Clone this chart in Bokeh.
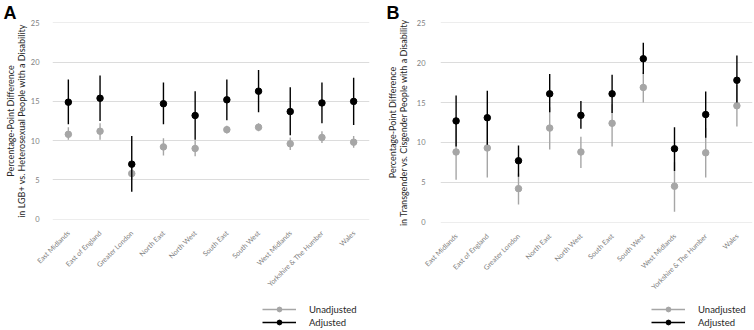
from bokeh.plotting import figure
from bokeh.models import ColumnDataSource, Legend, LegendItem, FixedTicker, Range1d
from bokeh.layouts import row, column
from bokeh.embed import file_html
from bokeh.resources import INLINE
import math

regions = ["East Midlands", "East of England", "Greater London", "North East", "North West",
           "South East", "South West", "West Midlands", "Yorkshire & The Humber", "Wales"]

a_adj = [14.9, 15.4, 7.0, 14.7, 13.2, 15.2, 16.3, 13.7, 14.8, 15.0]
a_adj_lo = [12.1, 12.5, 3.5, 12.1, 10.1, 12.6, 13.6, 10.7, 12.2, 12.0]
a_adj_hi = [17.8, 18.3, 10.6, 17.4, 16.3, 17.8, 19.0, 16.8, 17.4, 18.0]
a_unadj = [10.8, 11.2, 5.8, 9.2, 9.0, 11.4, 11.7, 9.6, 10.4, 9.8]
a_unadj_lo = [10.1, 10.1, 5.0, 8.1, 8.0, 10.9, 11.2, 8.8, 9.7, 9.1]
a_unadj_hi = [11.7, 12.2, 6.6, 10.3, 10.0, 11.9, 12.2, 10.4, 11.2, 10.6]

b_adj = [12.7, 13.1, 7.7, 16.1, 13.4, 16.1, 20.5, 9.2, 13.5, 17.8]
b_adj_lo = [9.5, 9.7, 5.7, 13.8, 11.7, 13.7, 18.6, 6.4, 10.6, 15.0]
b_adj_hi = [15.9, 16.5, 9.6, 18.6, 15.2, 18.5, 22.5, 11.9, 16.4, 20.9]
b_unadj = [8.8, 9.3, 4.2, 11.8, 8.8, 12.4, 16.9, 4.5, 8.7, 14.6]
b_unadj_lo = [5.3, 5.6, 2.2, 9.1, 6.8, 9.5, 15.0, 1.3, 5.6, 12.0]
b_unadj_hi = [12.3, 13.0, 6.1, 14.4, 10.7, 14.8, 18.8, 7.5, 11.8, 17.2]

y_ticks = [0, 5, 10, 15, 20, 25]
series_names = ["Unadjusted", "Adjusted"]

FONT = "Lato"
GRAY = "#a6a6a6"
BLACK = "#000000"
PANEL_W = 377
LEGEND_H = 29


def style_series(p, src, color):
    seg = p.segment(x0="x", y0="lo", x1="x", y1="hi", source=src,
                    line_color=color, line_width=1.4)
    pt = p.scatter(x="x", y="y", source=src, size=6.5, fill_color=color, line_color=color)
    return seg, pt


def make_panel(letter, ylabel, adj, adj_lo, adj_hi, un, un_lo, un_hi,
               left, fw, fh, top, right, letter_off, tick_standoff, label_standoff, legend_x):
    main_h = 330 - LEGEND_H
    p = figure(x_range=regions, y_range=(-0.05, 25.05), frame_width=fw, frame_height=fh,
               min_border_left=left, min_border_right=right, min_border_top=top,
               min_border_bottom=main_h - top - fh,
               output_backend="svg", toolbar_location=None)
    p.outline_line_color = None
    p.background_fill_color = "white"
    p.border_fill_color = "white"

    p.title.text = letter
    p.title.align = "left"
    p.title.offset = letter_off
    p.title.standoff = 0
    p.title.text_font = "Liberation Sans"
    p.title.text_font_style = "bold"
    p.title.text_font_size = "18px"
    p.title.text_color = "black"

    src_u = ColumnDataSource(dict(x=regions, y=un, lo=un_lo, hi=un_hi))
    src_a = ColumnDataSource(dict(x=regions, y=adj, lo=adj_lo, hi=adj_hi))
    style_series(p, src_u, GRAY)
    style_series(p, src_a, BLACK)

    p.xgrid.grid_line_color = None
    p.ygrid.grid_line_color = "#dcdcdc"
    p.ygrid.grid_line_width = 1.2
    p.yaxis.ticker = FixedTicker(ticks=y_ticks)

    for ax in (p.xaxis[0], p.yaxis[0]):
        ax.axis_line_color = None
        ax.major_tick_line_color = None
        ax.minor_tick_line_color = None
        ax.major_label_text_font = FONT

    p.yaxis.major_label_text_font_size = "7.5px"
    p.yaxis.major_label_text_color = "#7f7f7f"
    p.yaxis.major_label_standoff = tick_standoff
    p.yaxis.axis_label = ylabel
    p.yaxis.axis_label_text_font = FONT
    p.yaxis.axis_label_text_font_style = "normal"
    p.yaxis.axis_label_text_font_size = "9px"
    p.yaxis.axis_label_text_line_height = 1.0
    p.yaxis.axis_label_text_color = "#262626"
    p.yaxis.axis_label_standoff = label_standoff

    p.xaxis.major_label_orientation = math.pi / 4
    p.xaxis.major_label_text_font_size = "7px"
    p.xaxis.major_label_text_color = "#7f7f7f"
    p.xaxis.major_label_standoff = 6

    # legend strip below the panel; it reuses the series sources, whose points
    # fall outside this strip's y range, so only the legend itself shows
    lg = figure(width=PANEL_W, height=LEGEND_H, x_range=regions, y_range=Range1d(100, 101),
                x_axis_type=None, y_axis_type=None, min_border=0,
                output_backend="svg", toolbar_location=None)
    lg.grid.visible = False
    lg.outline_line_color = None
    seg_u, pt_u = style_series(lg, src_u, GRAY)
    seg_a, pt_a = style_series(lg, src_a, BLACK)
    legend = Legend(items=[
        LegendItem(label=series_names[0], renderers=[seg_u, pt_u]),
        LegendItem(label=series_names[1], renderers=[seg_a, pt_a]),
    ], location=(legend_x, 3))
    legend.label_text_font = FONT
    legend.label_text_font_size = "9.5px"
    legend.label_text_color = "#262626"
    legend.glyph_width = 34
    legend.glyph_height = 12
    legend.label_height = 12
    legend.spacing = 1
    legend.padding = 0
    legend.margin = 0
    legend.label_standoff = 13
    legend.border_line_color = None
    legend.background_fill_alpha = 0
    lg.add_layout(legend)
    return column(p, lg, spacing=0)


pa = make_panel("A", "Percentage-Point Difference\nin LGB+ vs. Heterosexual People with a Disability",
                a_adj, a_adj_lo, a_adj_hi, a_unadj, a_unadj_lo, a_unadj_hi,
                left=52, fw=317, fh=197, top=21, right=8, letter_off=-49,
                tick_standoff=7, label_standoff=1, legend_x=210)
pb = make_panel("B", "Percentage-Point Difference\nin Transgender vs. Cisgender People with a Disability",
                b_adj, b_adj_lo, b_adj_hi, b_unadj, b_unadj_lo, b_unadj_hi,
                left=63, fw=312, fh=200, top=21, right=2, letter_off=-54,
                tick_standoff=9, label_standoff=5, legend_x=211)

layout = row(pa, pb, spacing=0)
open("out.html", "w").write(file_html(layout, INLINE))
